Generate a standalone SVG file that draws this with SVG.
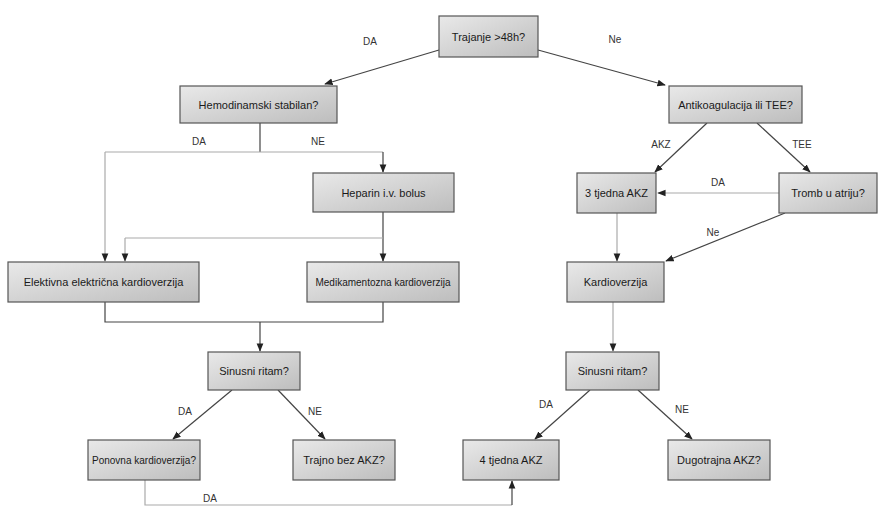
<svg xmlns="http://www.w3.org/2000/svg" width="879" height="508" viewBox="0 0 879 508">
<defs>
<linearGradient id="g" x1="0" y1="0" x2="1" y2="1">
<stop offset="0" stop-color="#e9e9e9"/>
<stop offset="1" stop-color="#bdbdbd"/>
</linearGradient>
<marker id="a" viewBox="0 0 10 10" refX="9" refY="5" markerWidth="7" markerHeight="7" orient="auto-start-reverse">
<path d="M0,1 L10,5 L0,9 Z" fill="#222"/>
</marker>
<style>
.n rect{fill:url(#g);stroke:#555;stroke-width:1.2}
.n text{font-family:"Liberation Sans",Arial,sans-serif;font-size:11px;fill:#1a1a1a;text-anchor:middle;dominant-baseline:central}
.n text.s{font-size:10px}
.c path{fill:none;stroke:#444;stroke-width:1.2}
.c .l{stroke:#aaa}
.c .m{marker-end:url(#a)}
.lb{font-family:"Liberation Sans",Arial,sans-serif;font-size:10px;fill:#333;text-anchor:middle}
</style>
</defs>
<rect width="879" height="508" fill="#fff"/>
<g id="connectors" class="c">
<path class="m" d="M439,50 L325,84"/>
<path class="m" d="M538,50 L665,85"/>
<path d="M260,123 L260,152"/>
<path class="l" d="M105,152 L383,152"/>
<path class="m" d="M383,152 L383,172"/>
<path class="m l" d="M105,152 L105,261"/>
<path class="m" d="M383,212 L383,261"/>
<path class="l" d="M125,238 L383,238"/>
<path class="m l" d="M125,238 L125,261"/>
<path d="M105,302 L105,322 L383,322 L383,302"/>
<path class="m" d="M260,322 L260,351"/>
<path class="m" d="M232,390 L173,439"/>
<path class="m" d="M278,390 L325,439"/>
<path class="l" d="M145,480 L145,505 L512,505"/>
<path class="m" d="M512,505 L512,481"/>
<path class="m" d="M707,123 L655,172"/>
<path class="m" d="M757,123 L810,172"/>
<path class="m l" d="M779,193 L658,193"/>
<path class="m" d="M785,213 L666,261"/>
<path class="m l" d="M617,213 L617,261"/>
<path class="m l" d="M613,302 L613,351"/>
<path class="m" d="M590,390 L535,439"/>
<path class="m" d="M638,390 L692,439"/>
</g>
<g id="labels">
<text class="lb" x="370" y="45">DA</text>
<text class="lb" x="615" y="43">Ne</text>
<text class="lb" x="199" y="145">DA</text>
<text class="lb" x="318" y="145">NE</text>
<text class="lb" x="661" y="148">AKZ</text>
<text class="lb" x="802" y="148">TEE</text>
<text class="lb" x="718" y="186">DA</text>
<text class="lb" x="713" y="236">Ne</text>
<text class="lb" x="185" y="415">DA</text>
<text class="lb" x="315" y="415">NE</text>
<text class="lb" x="546" y="408">DA</text>
<text class="lb" x="682" y="413">NE</text>
<text class="lb" x="210" y="502">DA</text>
</g>
<g id="n1" class="n"><rect x="439" y="16" width="99" height="41"/><text x="488.5" y="36.5">Trajanje &gt;48h?</text></g>
<g id="n2" class="n"><rect x="180" y="86" width="157" height="37"/><text x="258.5" y="104.5">Hemodinamski stabilan?</text></g>
<g id="n3" class="n"><rect x="669" y="86" width="133" height="37"/><text x="735.5" y="104.5">Antikoagulacija ili TEE?</text></g>
<g id="n4" class="n"><rect x="313" y="173" width="141" height="39"/><text x="383.5" y="192.5">Heparin i.v. bolus</text></g>
<g id="n5" class="n"><rect x="577" y="173" width="79" height="40"/><text x="616.5" y="193">3 tjedna AKZ</text></g>
<g id="n6" class="n"><rect x="779" y="173" width="98" height="40"/><text x="828" y="193">Tromb u atriju?</text></g>
<g id="n7" class="n"><rect x="8" y="262" width="191" height="40"/><text x="103.5" y="282">Elektivna električna kardioverzija</text></g>
<g id="n8" class="n"><rect x="307" y="262" width="152" height="40"/><text x="383" y="282" class="s">Medikamentozna kardioverzija</text></g>
<g id="n9" class="n"><rect x="567" y="262" width="97" height="40"/><text x="615.5" y="282">Kardioverzija</text></g>
<g id="n10" class="n"><rect x="208" y="352" width="92" height="38"/><text x="254" y="371">Sinusni ritam?</text></g>
<g id="n11" class="n"><rect x="566" y="352" width="93" height="38"/><text x="612.5" y="371">Sinusni ritam?</text></g>
<g id="n12" class="n"><rect x="88" y="440" width="112" height="40"/><text x="144" y="460" class="s">Ponovna kardioverzija?</text></g>
<g id="n13" class="n"><rect x="293" y="440" width="102" height="40"/><text x="344" y="460">Trajno bez AKZ?</text></g>
<g id="n14" class="n"><rect x="463" y="440" width="96" height="40"/><text x="511" y="460">4 tjedna AKZ</text></g>
<g id="n15" class="n"><rect x="668" y="440" width="102" height="40"/><text x="719" y="460">Dugotrajna AKZ?</text></g>
</svg>
